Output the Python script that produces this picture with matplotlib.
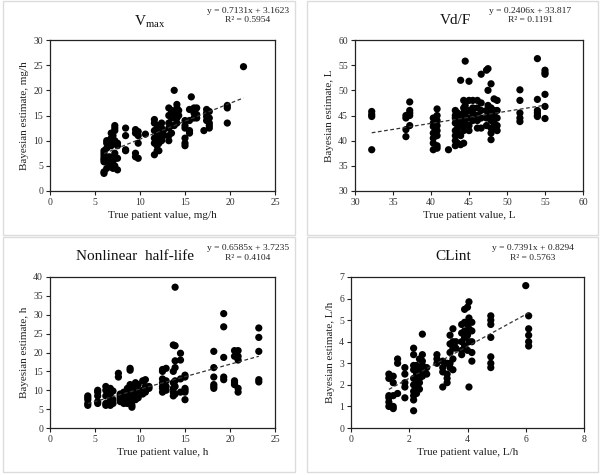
import matplotlib
matplotlib.use("Agg")
import matplotlib.pyplot as plt
from matplotlib.patches import Rectangle
import numpy as np

plt.rcParams['font.family'] = ['Liberation Serif', 'DejaVu Serif']
plt.rcParams['mathtext.fontset'] = 'custom'
plt.rcParams['mathtext.rm'] = 'Liberation Serif'

# ---------------- data ----------------
# Each column: (true value, [Bayesian estimates])
vmax_cols = [
    (6.0, [3.5, 3.8, 5.8, 6.2, 7.0, 7.5, 8.0, 6.5]),
    (6.3, [9.5, 10.0, 8.5, 6.0, 4.5]),
    (6.6, [10.0, 9.0, 6.8, 5.0]),
    (6.8, [11.5, 10.5, 10.0, 9.0, 6.5, 4.8]),
    (7.0, [11.0, 9.8, 6.0, 4.5]),
    (7.2, [13.0, 12.5, 12.0, 10.0, 7.5, 6.5, 5.0]),
    (7.5, [9.5, 9.0, 4.2, 6.5]),
    (8.4, [12.5, 11.0, 8.2, 8.0]),
    (9.5, [12.2, 11.5, 7.5, 6.8]),
    (9.8, [11.8, 11.0, 9.5, 6.5]),
    (10.6, [11.3]),
    (11.6, [14.2, 13.5, 12.0, 10.5, 9.5, 7.2]),
    (11.9, [12.5, 11.5, 10.5, 10.0, 9.0, 8.0]),
    (12.1, [13.0, 12.0, 11.0, 10.2, 9.5, 8.0]),
    (12.4, [13.5, 12.5, 11.5, 10.5, 10.0]),
    (12.6, [12.0, 11.0]),
    (13.2, [16.5, 15.0, 13.5, 12.5, 11.0, 10.0]),
    (13.5, [16.0, 15.5, 14.5, 13.0, 11.5]),
    (13.8, [20.0, 15.5, 14.5, 13.0]),
    (14.1, [17.2, 16.5, 15.5, 14.5, 13.5]),
    (14.3, [16.0, 15.0]),
    (15.0, [9.0, 9.5, 10.5, 12.5, 13.0, 14.0]),
    (15.5, [16.2, 14.0, 12.0, 11.5]),
    (15.7, [18.7]),
    (16.0, [16.5, 15.5, 14.5]),
    (16.3, [16.5, 15.2, 14.5]),
    (17.1, [12.0]),
    (17.4, [16.2, 15.5, 14.8, 14.0]),
    (17.7, [15.8, 14.5, 13.5, 13.0, 12.5]),
    (19.7, [17.0, 16.5, 13.5]),
    (21.5, [24.7]),
]
vd_cols = [
    (32.2, [45.8, 45.2, 44.8, 38.2]),
    (36.7, [45.0, 44.5, 42.2, 40.8]),
    (37.2, [47.7, 46.0, 45.5, 43.0, 45.0]),
    (40.3, [44.5, 43.5, 42.8, 41.5, 40.5, 39.5, 38.2]),
    (40.8, [46.3, 45.0, 44.0, 43.0, 42.0, 41.0, 39.0, 38.5]),
    (42.3, [38.2]),
    (43.2, [46.0, 45.0, 44.5, 43.5, 42.0, 41.0, 40.0, 39.0]),
    (43.5, [45.5, 44.0, 42.5, 41.5, 39.5]),
    (43.9, [52.0, 45.0, 43.0, 41.0, 39.2]),
    (44.3, [48.0, 46.5, 45.5, 44.0, 43.0, 42.0, 39.5]),
    (44.5, [55.8, 47.0, 45.0, 43.5]),
    (45.0, [51.8, 48.0, 46.0, 44.5, 43.0, 42.0]),
    (45.5, [48.0, 46.5, 45.5, 44.0]),
    (46.1, [48.0, 46.5, 45.0, 44.0, 42.5]),
    (46.6, [53.2, 47.5, 46.0, 44.5, 42.5]),
    (47.3, [54.0, 46.0, 44.5, 43.0]),
    (47.5, [54.3, 50.0, 47.0, 45.5]),
    (47.9, [51.3, 46.5, 45.0, 44.0, 42.5, 41.5, 40.2]),
    (48.3, [48.3, 46.0, 45.0, 43.5, 42.5]),
    (48.7, [48.0, 46.0, 44.5, 43.0, 42.0]),
    (51.7, [50.1, 48.0, 45.5, 44.5, 43.8]),
    (54.0, [56.3, 48.2, 46.0, 45.5, 45.0, 44.8]),
    (55.0, [54.0, 53.5, 53.2, 49.2, 46.8, 44.4]),
]
hl_cols = [
    (4.2, [8.5, 8.0, 7.5, 6.5, 6.0]),
    (5.3, [10.0, 9.5, 8.5, 7.0, 6.5]),
    (6.2, [11.0, 10.0, 8.5, 6.5, 6.0]),
    (6.7, [10.5, 9.0, 8.0, 7.0, 6.0]),
    (7.0, [9.8, 7.5, 6.5]),
    (7.6, [14.5, 13.5]),
    (7.8, [9.0, 8.5, 8.0, 7.0]),
    (8.2, [9.5, 8.5, 7.5, 6.5]),
    (8.6, [10.5, 9.0, 8.0, 7.0, 6.5]),
    (8.9, [15.8, 15.3, 11.5, 10.0, 9.0]),
    (9.1, [11.0, 9.5, 8.0, 7.0, 6.0, 5.5]),
    (9.5, [12.0, 10.5, 9.5, 8.5, 7.5]),
    (9.8, [11.5, 10.0, 9.0, 8.0]),
    (10.3, [12.5, 10.0, 9.0]),
    (10.6, [12.8, 11.0, 9.5]),
    (11.0, [11.0, 10.5]),
    (12.5, [15.5, 15.0, 13.0, 12.0, 11.0, 10.5, 9.5]),
    (12.9, [15.8, 12.5, 11.0, 10.0]),
    (13.7, [22.0, 15.0, 12.0, 10.5, 9.5, 8.5]),
    (13.9, [37.3, 21.8, 17.8, 16.0, 12.5, 11.0, 9.0]),
    (14.5, [19.8, 18.0, 13.0, 9.5]),
    (15.0, [14.0, 13.5, 10.5, 10.0, 9.5, 7.5]),
    (18.2, [20.3, 16.0, 13.5, 11.5, 11.0, 10.5]),
    (19.3, [30.3, 26.8, 18.7, 13.5, 12.8]),
    (20.5, [20.5, 19.0, 12.5, 12.0, 11.5]),
    (20.9, [20.5, 19.0, 18.0, 10.5, 9.5]),
    (23.2, [26.5, 24.0, 20.3, 12.8, 12.2]),
]
cl_cols = [
    (1.3, [2.5, 2.3, 1.5, 1.4, 1.2, 1.0]),
    (1.45, [2.4, 2.1, 1.5, 1.0, 0.9]),
    (1.6, [3.2, 3.0, 1.6]),
    (1.85, [2.8, 2.5, 2.1, 1.9, 1.4]),
    (2.15, [3.7, 3.4, 2.9, 2.7, 2.3, 2.0, 1.7, 1.5, 1.3, 0.8]),
    (2.25, [2.9, 2.7, 2.5, 2.2, 1.9, 1.6]),
    (2.35, [3.2, 2.8, 2.5, 2.3, 2.1, 1.8]),
    (2.45, [4.35, 3.4, 3.1, 2.9, 2.7, 2.4]),
    (2.6, [2.8, 2.5]),
    (2.95, [3.4, 3.2, 3.0]),
    (3.15, [3.1, 2.8, 2.6, 1.9]),
    (3.3, [3.0, 2.5, 2.3, 2.1]),
    (3.4, [4.3, 3.9, 3.5, 3.0, 2.8]),
    (3.5, [4.6, 4.0, 3.7, 3.2, 2.7]),
    (3.6, [4.0, 3.7]),
    (3.8, [4.8, 4.4, 4.0, 3.6, 3.4]),
    (3.9, [5.5, 4.9, 4.5, 4.2, 3.8]),
    (4.0, [5.6, 4.8, 4.3, 3.6]),
    (4.05, [5.85, 5.1, 4.6, 4.0, 1.9]),
    (4.15, [4.9, 4.5, 4.0, 3.5, 3.1]),
    (4.8, [5.2, 5.0, 4.8, 4.2, 3.3, 3.0, 2.8]),
    (6.0, [6.6]),
    (6.1, [5.2, 4.6, 4.3, 4.0, 3.8]),
]

titles = [r'V$_{\mathrm{max}}$', 'Vd/F', 'Nonlinear  half-life', 'CLint']
units = ['mg/h', 'L', 'h', 'L/h']
slopes = [0.7131, 0.2406, 0.6585, 0.7391]
intercepts = [3.1623, 33.817, 3.7235, 0.8294]
r2 = ['0.5954', '0.1191', '0.4104', '0.5763']
eqs = ['y = 0.7131x + 3.1623', 'y = 0.2406x + 33.817',
       'y = 0.6585x + 3.7235', 'y = 0.7391x + 0.8294']
xlims = [(0, 25), (30, 60), (0, 25), (0, 8)]
ylims = [(0, 30), (30, 60), (0, 40), (0, 7)]
xticks = [[0, 5, 10, 15, 20, 25], [30, 35, 40, 45, 50, 55, 60],
          [0, 5, 10, 15, 20, 25], [0, 2, 4, 6, 8]]
yticks = [[0, 5, 10, 15, 20, 25, 30], [30, 35, 40, 45, 50, 55, 60],
          [0, 5, 10, 15, 20, 25, 30, 35, 40], [0, 1, 2, 3, 4, 5, 6, 7]]
all_cols = [vmax_cols, vd_cols, hl_cols, cl_cols]

# ---------------- layout (pixels) ----------------
W, H = 601, 475
fig = plt.figure(figsize=(W / 100, H / 100), dpi=100)
fig.patch.set_facecolor('white')

def fx(p):
    return p / W

def fy(p):
    return 1 - p / H

# panel frames
frames = [(3, 1, 295, 235), (307, 1, 598, 235), (3, 237, 295, 472), (307, 237, 598, 472)]
for (x0, y0, x1, y1) in frames:
    fig.patches.append(Rectangle((fx(x0), fy(y1)), fx(x1) - fx(x0), fy(y0) - fy(y1),
                                 transform=fig.transFigure, fill=False,
                                 edgecolor='#dcdcdc', linewidth=1.0))

axes_px = [(50, 40, 275, 191), (355, 40, 583, 191), (50, 277, 275, 428), (351, 277, 584, 428)]
title_pos = [(150, 22), (455, 21), (135, 256), (453, 256)]
eq_pos = [(248, 7), (530, 7), (248, 244), (533, 244)]

for i in range(4):
    x0, y0, x1, y1 = axes_px[i]
    ax = fig.add_axes([fx(x0), fy(y1), fx(x1) - fx(x0), fy(y0) - fy(y1)])
    xs, ys = [], []
    for xv, yl in all_cols[i]:
        xs.extend([xv] * len(yl))
        ys.extend(yl)
    xs = np.array(xs)
    ys = np.array(ys)
    ax.scatter(xs, ys, s=27, color='black', edgecolors='none', zorder=3)
    xl = np.array([xs.min(), xs.max()])
    ax.plot(xl, slopes[i] * xl + intercepts[i], color='#333333', lw=0.9,
            linestyle=(0, (3, 2)), zorder=4)
    ax.set_xlim(*xlims[i])
    ax.set_ylim(*ylims[i])
    ax.set_xticks(xticks[i])
    ax.set_yticks(yticks[i])
    ax.tick_params(direction='out', length=3, width=0.8, labelsize=7, pad=2,
                   colors='#222222', labelcolor='#333333')
    for sp in ax.spines.values():
        sp.set_linewidth(0.9)
        sp.set_color('#222222')
    ax.set_xlabel('True patient value, ' + units[i], fontsize=8, labelpad=3, color='#222222')
    ax.set_ylabel('Bayesian estimate, ' + units[i], fontsize=8, labelpad=3, color='#222222')
    tx, ty = title_pos[i]
    fig.text(fx(tx), fy(ty), titles[i], ha='center', va='center', fontsize=11, color='#111111')
    ex, ey = eq_pos[i]
    fig.text(fx(ex), fy(ey), eqs[i] + '\n' + 'R² = ' + r2[i], ha='center', va='top',
             fontsize=6.8, linespacing=1.25, color='#222222')

fig.savefig('out.png', dpi=100)
